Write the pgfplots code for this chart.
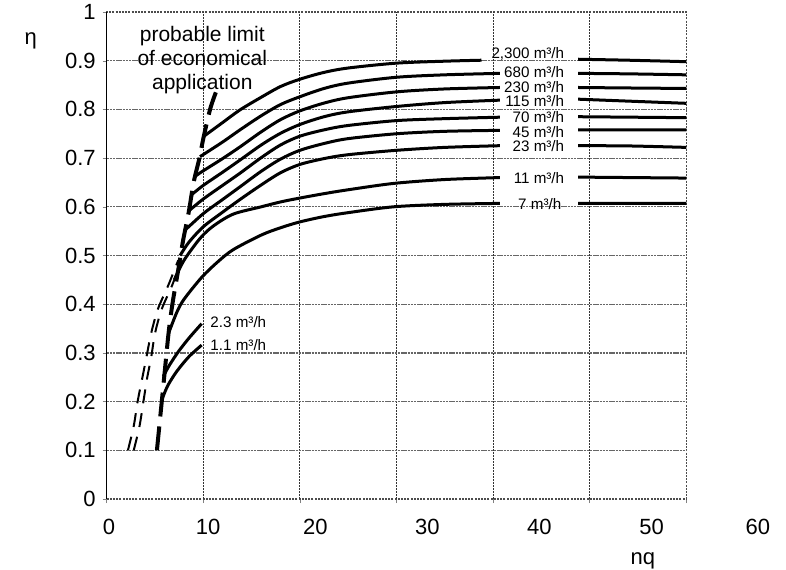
\documentclass[border=0pt]{standalone}
\usepackage{pgfplots}
\pgfplotsset{compat=1.18}
\usepackage{fontspec}
\setmainfont{Liberation Sans}

\begin{document}
\begin{tikzpicture}
\begin{axis}[
  scale only axis, width=289.8pt, height=243.5pt,
  xmin=0, xmax=60, ymin=0, ymax=1,
  xtick={0,10,20,30,40,50,60}, xticklabels={},
  ytick={0,0.1,0.2,0.3,0.4,0.5,0.6,0.7,0.8,0.9,1},
  yticklabels={0,0.1,0.2,0.3,0.4,0.5,0.6,0.7,0.8,0.9,1},
  tick align=outside, major tick length=2pt,
  xtick pos=bottom, ytick pos=left,
  axis line style={black!70, line width=0.55pt, dash pattern=on 1pt off 0.6pt},
  yticklabel style={font=\fontsize{11}{13}\selectfont},
  /pgf/number format/assume math mode=true,
  clip=false,
  unbounded coords=jump,
]
% grid
\pgfplotsinvokeforeach{10,20,30,40,50}{
  \draw[black!80, line width=0.55pt, dash pattern=on 1pt off 0.5pt] (axis cs:#1,0) -- (axis cs:#1,1);
}
\pgfplotsinvokeforeach{1,2,3,4,5,6,7,8,9}{
  \draw[black!60, line width=0.6pt, dash pattern=on 1.2pt off 0.4pt] (rel axis cs:0,#1/10) -- (rel axis cs:1,#1/10);
}
% efficiency curves
\addplot[black, line width=1.5pt, smooth] coordinates {(10.0,0.744) (12,0.773) (13.8,0.799) (16,0.825) (18,0.847) (20,0.862) (22.5,0.876) (25,0.885) (30,0.895) (35,0.899) (38.8,0.901) (44,nan) (48.8,0.903) (54,0.901) (60,0.898)};
\addplot[black, line width=1.5pt, smooth] coordinates {(9.66,0.703) (12,0.733) (13.8,0.758) (16,0.787) (18,0.810) (20,0.826) (22.5,0.843) (25,0.854) (30,0.866) (35,0.871) (40.7,0.874) (44,nan) (48.8,0.874) (54,0.873) (60,0.871)};
\addplot[black, line width=1.5pt, smooth] coordinates {(9.1,0.662) (10,0.674) (12,0.699) (13.8,0.723) (16,0.754) (18,0.779) (20,0.797) (22.5,0.813) (25,0.824) (30,0.836) (35,0.842) (40.7,0.845) (44,nan) (48.8,0.845) (54,0.844) (60,0.843)};
\addplot[black, line width=1.5pt, smooth] coordinates {(8.8,0.625) (10,0.644) (12,0.671) (13.8,0.696) (16,0.727) (18,0.751) (20,0.769) (22.5,0.785) (25,0.795) (30,0.806) (35,0.814) (40.7,0.819) (44,nan) (48.8,0.821) (54,0.817) (60,0.8125)};
\addplot[black, line width=1.5pt, smooth] coordinates {(8.4,0.59) (10,0.616) (12,0.644) (13.8,0.669) (16,0.701) (18,0.727) (20,0.745) (22.5,0.758) (25,0.767) (30,0.777) (35,0.781) (40.7,0.784) (44,nan) (48.8,0.785) (60,0.783)};
\addplot[black, line width=1.5pt, smooth] coordinates {(8.0,0.55) (10,0.586) (12,0.615) (13.8,0.641) (16,0.673) (18,0.698) (20,0.716) (22.5,0.730) (25,0.740) (30,0.750) (35,0.755) (40.7,0.757) (44,nan) (48.8,0.758) (60,0.758)};
\addplot[black, line width=1.5pt, smooth] coordinates {(7.6,0.50) (8.5,0.527) (10,0.559) (12,0.589) (13.8,0.615) (16,0.645) (18,0.670) (20,0.687) (22.5,0.699) (25,0.707) (30,0.716) (35,0.722) (40.7,0.7255) (44,nan) (48.8,0.7255) (54,0.725) (60,0.722)};
\addplot[black, line width=1.5pt, smooth] coordinates {(7.0,0.45) (8,0.49) (9.66,0.535) (11,0.560) (13.1,0.585) (16,0.600) (18,0.610) (20,0.618) (22.5,0.627) (25,0.635) (29.7,0.648) (35,0.656) (40.7,0.660) (44,nan) (48.8,0.661) (60,0.659)};
\addplot[black, line width=1.5pt, smooth] coordinates {(6.4,0.34) (7.25,0.383) (8,0.410) (9.83,0.455) (11.5,0.487) (13.1,0.512) (16,0.542) (18,0.557) (20,0.569) (22.5,0.580) (25,0.588) (29.7,0.600) (35,0.605) (40.7,0.607) (44,nan) (48.8,0.607) (60,0.607)};
\addplot[black, line width=1.5pt, smooth] coordinates {(5.86,0.252) (6.5,0.275) (7.4,0.302) (8.5,0.330) (9.83,0.360)};
\addplot[black, line width=1.5pt, smooth] coordinates {(5.7,0.203) (6.3,0.232) (7.25,0.262) (8.5,0.292) (9.83,0.316)};
% limit lines
\addplot[black, line width=2pt, dash pattern=on 12pt off 5pt, smooth] coordinates {(5.2,0.10) (5.5,0.16) (5.7,0.20) (6.0,0.26) (6.4,0.34) (6.8,0.40) (7.4,0.47) (7.9,0.53) (8.5,0.59) (9.0,0.65) (9.6,0.70) (10.0,0.74) (10.7,0.80) (11.3,0.835)};
\addplot[black, line width=1pt, dash pattern=on 7pt off 5pt, smooth] coordinates {(2.2,0.10) (2.8,0.15) (3.2,0.20) (3.7,0.25) (4.1,0.29) (4.6,0.34) (5.3,0.39) (6.4,0.44) (7.4,0.49)};
\addplot[black, line width=1pt, dash pattern=on 7pt off 5pt, smooth] coordinates {(2.8,0.10) (3.4,0.15) (3.8,0.20) (4.2,0.25) (4.6,0.29) (5.0,0.34) (5.7,0.39) (6.8,0.44) (7.7,0.49)};
% curve labels
\begin{scope}[every node/.style={anchor=east, inner sep=0pt, font=\fontsize{7.6}{8}\selectfont}]
\node at (axis cs:47.4,0.914) {2,300 m³/h};
\node at (axis cs:47.4,0.876) {680 m³/h};
\node at (axis cs:47.4,0.845) {230 m³/h};
\node at (axis cs:47.4,0.817) {115 m³/h};
\node at (axis cs:47.4,0.784) {70 m³/h};
\node at (axis cs:47.4,0.754) {45 m³/h};
\node at (axis cs:47.4,0.7255) {23 m³/h};
\node at (axis cs:47.4,0.660) {11 m³/h};
\node at (axis cs:47.1,0.606) {7 m³/h};
\end{scope}
\node[anchor=west, inner sep=0pt, font=\fontsize{7.6}{8}\selectfont] at (axis cs:10.7,0.364) {2.3 m³/h};
\node[anchor=west, inner sep=0pt, font=\fontsize{7.6}{8}\selectfont] at (axis cs:10.7,0.316) {1.1 m³/h};
\node[align=center, font=\fontsize{10.5}{12}\selectfont, inner sep=0pt] at (axis cs:9.9,0.902) {probable limit\\of economical\\application};
% x tick labels (as printed)
\begin{scope}[every node/.style={font=\fontsize{11}{13}\selectfont, yshift=-14pt}]
\node at (axis cs:0.24,0) {0};
\node at (axis cs:10.5,0) {10};
\node at (axis cs:21.6,0) {20};
\node at (axis cs:33.2,0) {30};
\node at (axis cs:44.8,0) {40};
\node at (axis cs:56.4,0) {50};
\node at (axis cs:67.4,0) {60};
\end{scope}
\node[font=\fontsize{11}{13}\selectfont, yshift=-31pt] at (axis cs:55.5,0) {nq};
\node[font=\fontsize{11}{13}\selectfont, xshift=-38pt] at (rel axis cs:0,0.94) {η};
\draw[black, line width=0.6pt] (rel axis cs:0,0) -- (rel axis cs:0,1);
\end{axis}
\pgfresetboundingbox
\useasboundingbox (-53.35pt,-35pt) rectangle (339.65pt,249.5pt);
\end{tikzpicture}
\end{document}
